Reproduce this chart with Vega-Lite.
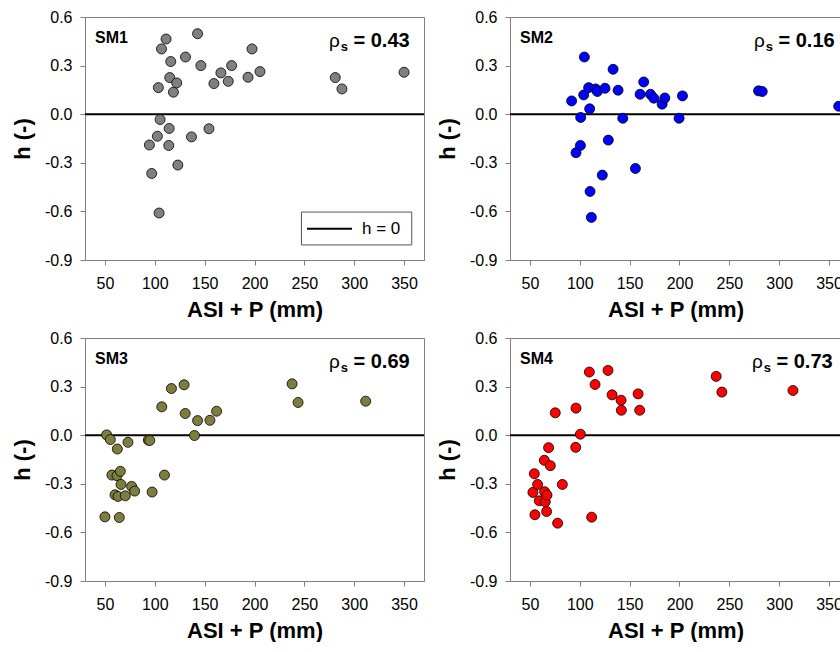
{
  "$schema": "https://vega.github.io/schema/vega-lite/v6.json",
  "padding": {"left": 10, "top": 8, "right": 0, "bottom": 0},
  "datasets": {
    "points": [
      {"sm": "SM1", "asi": 94.6, "h": -0.19},
      {"sm": "SM1", "asi": 96.9, "h": -0.366},
      {"sm": "SM1", "asi": 103.6, "h": 0.164},
      {"sm": "SM1", "asi": 102.6, "h": -0.136},
      {"sm": "SM1", "asi": 104.3, "h": -0.61},
      {"sm": "SM1", "asi": 105.3, "h": -0.033},
      {"sm": "SM1", "asi": 106.7, "h": 0.403},
      {"sm": "SM1", "asi": 111.3, "h": 0.464},
      {"sm": "SM1", "asi": 114.4, "h": -0.088},
      {"sm": "SM1", "asi": 116.0, "h": 0.325},
      {"sm": "SM1", "asi": 115.0, "h": 0.226},
      {"sm": "SM1", "asi": 114.0, "h": -0.193},
      {"sm": "SM1", "asi": 118.7, "h": 0.136},
      {"sm": "SM1", "asi": 122.0, "h": 0.193},
      {"sm": "SM1", "asi": 123.1, "h": -0.314},
      {"sm": "SM1", "asi": 130.8, "h": 0.353},
      {"sm": "SM1", "asi": 136.8, "h": -0.14},
      {"sm": "SM1", "asi": 142.9, "h": 0.497},
      {"sm": "SM1", "asi": 146.2, "h": 0.30},
      {"sm": "SM1", "asi": 154.3, "h": -0.09},
      {"sm": "SM1", "asi": 159.3, "h": 0.189},
      {"sm": "SM1", "asi": 166.3, "h": 0.255},
      {"sm": "SM1", "asi": 173.7, "h": 0.203},
      {"sm": "SM1", "asi": 177.1, "h": 0.30},
      {"sm": "SM1", "asi": 193.5, "h": 0.228},
      {"sm": "SM1", "asi": 197.5, "h": 0.403},
      {"sm": "SM1", "asi": 205.5, "h": 0.263},
      {"sm": "SM1", "asi": 281.0, "h": 0.226},
      {"sm": "SM1", "asi": 287.7, "h": 0.156},
      {"sm": "SM1", "asi": 350.0, "h": 0.259},

      {"sm": "SM2", "asi": 91.8, "h": 0.082},
      {"sm": "SM2", "asi": 96.2, "h": -0.238},
      {"sm": "SM2", "asi": 100.6, "h": -0.193},
      {"sm": "SM2", "asi": 100.9, "h": -0.02},
      {"sm": "SM2", "asi": 103.9, "h": 0.119},
      {"sm": "SM2", "asi": 104.6, "h": 0.353},
      {"sm": "SM2", "asi": 108.9, "h": 0.164},
      {"sm": "SM2", "asi": 109.9, "h": 0.033},
      {"sm": "SM2", "asi": 110.3, "h": -0.477},
      {"sm": "SM2", "asi": 111.6, "h": -0.637},
      {"sm": "SM2", "asi": 115.9, "h": 0.156},
      {"sm": "SM2", "asi": 117.6, "h": 0.14},
      {"sm": "SM2", "asi": 122.6, "h": -0.376},
      {"sm": "SM2", "asi": 125.3, "h": 0.16},
      {"sm": "SM2", "asi": 128.6, "h": -0.16},
      {"sm": "SM2", "asi": 133.4, "h": 0.277},
      {"sm": "SM2", "asi": 138.4, "h": 0.148},
      {"sm": "SM2", "asi": 143.1, "h": -0.025},
      {"sm": "SM2", "asi": 155.8, "h": -0.335},
      {"sm": "SM2", "asi": 160.5, "h": 0.123},
      {"sm": "SM2", "asi": 164.1, "h": 0.199},
      {"sm": "SM2", "asi": 170.9, "h": 0.123},
      {"sm": "SM2", "asi": 174.2, "h": 0.099},
      {"sm": "SM2", "asi": 182.6, "h": 0.062},
      {"sm": "SM2", "asi": 185.3, "h": 0.10},
      {"sm": "SM2", "asi": 199.6, "h": -0.025},
      {"sm": "SM2", "asi": 203.0, "h": 0.113},
      {"sm": "SM2", "asi": 279.3, "h": 0.144},
      {"sm": "SM2", "asi": 283.0, "h": 0.14},
      {"sm": "SM2", "asi": 359.7, "h": 0.049},

      {"sm": "SM3", "asi": 50.0, "h": -0.504},
      {"sm": "SM3", "asi": 51.7, "h": 0.002},
      {"sm": "SM3", "asi": 55.4, "h": -0.027},
      {"sm": "SM3", "asi": 57.0, "h": -0.246},
      {"sm": "SM3", "asi": 60.1, "h": -0.368},
      {"sm": "SM3", "asi": 62.1, "h": -0.25},
      {"sm": "SM3", "asi": 62.4, "h": -0.085},
      {"sm": "SM3", "asi": 63.1, "h": -0.378},
      {"sm": "SM3", "asi": 64.4, "h": -0.508},
      {"sm": "SM3", "asi": 65.4, "h": -0.223},
      {"sm": "SM3", "asi": 66.1, "h": -0.304},
      {"sm": "SM3", "asi": 70.4, "h": -0.374},
      {"sm": "SM3", "asi": 73.1, "h": -0.044},
      {"sm": "SM3", "asi": 76.8, "h": -0.316},
      {"sm": "SM3", "asi": 79.8, "h": -0.345},
      {"sm": "SM3", "asi": 93.5, "h": -0.03},
      {"sm": "SM3", "asi": 95.0, "h": -0.033},
      {"sm": "SM3", "asi": 97.3, "h": -0.351},
      {"sm": "SM3", "asi": 107.0, "h": 0.175},
      {"sm": "SM3", "asi": 109.7, "h": -0.246},
      {"sm": "SM3", "asi": 116.7, "h": 0.288},
      {"sm": "SM3", "asi": 129.4, "h": 0.311},
      {"sm": "SM3", "asi": 130.5, "h": 0.134},
      {"sm": "SM3", "asi": 139.8, "h": -0.002},
      {"sm": "SM3", "asi": 142.9, "h": 0.09},
      {"sm": "SM3", "asi": 155.3, "h": 0.092},
      {"sm": "SM3", "asi": 162.0, "h": 0.148},
      {"sm": "SM3", "asi": 237.7, "h": 0.317},
      {"sm": "SM3", "asi": 243.7, "h": 0.202},
      {"sm": "SM3", "asi": 311.5, "h": 0.21},

      {"sm": "SM4", "asi": 53.0, "h": -0.353},
      {"sm": "SM4", "asi": 54.4, "h": -0.238},
      {"sm": "SM4", "asi": 55.0, "h": -0.491},
      {"sm": "SM4", "asi": 57.7, "h": -0.304},
      {"sm": "SM4", "asi": 59.4, "h": -0.405},
      {"sm": "SM4", "asi": 64.4, "h": -0.155},
      {"sm": "SM4", "asi": 64.7, "h": -0.349},
      {"sm": "SM4", "asi": 65.4, "h": -0.411},
      {"sm": "SM4", "asi": 66.7, "h": -0.471},
      {"sm": "SM4", "asi": 67.1, "h": -0.37},
      {"sm": "SM4", "asi": 68.7, "h": -0.077},
      {"sm": "SM4", "asi": 70.4, "h": -0.188},
      {"sm": "SM4", "asi": 75.4, "h": 0.138},
      {"sm": "SM4", "asi": 77.8, "h": -0.543},
      {"sm": "SM4", "asi": 82.5, "h": -0.304},
      {"sm": "SM4", "asi": 95.9, "h": -0.075},
      {"sm": "SM4", "asi": 96.2, "h": 0.167},
      {"sm": "SM4", "asi": 100.6, "h": 0.006},
      {"sm": "SM4", "asi": 109.6, "h": 0.39},
      {"sm": "SM4", "asi": 111.9, "h": -0.506},
      {"sm": "SM4", "asi": 115.3, "h": 0.313},
      {"sm": "SM4", "asi": 128.3, "h": 0.40},
      {"sm": "SM4", "asi": 132.4, "h": 0.249},
      {"sm": "SM4", "asi": 141.4, "h": 0.216},
      {"sm": "SM4", "asi": 141.7, "h": 0.154},
      {"sm": "SM4", "asi": 158.5, "h": 0.255},
      {"sm": "SM4", "asi": 160.1, "h": 0.154},
      {"sm": "SM4", "asi": 236.8, "h": 0.363},
      {"sm": "SM4", "asi": 242.5, "h": 0.266},
      {"sm": "SM4", "asi": 313.8, "h": 0.276}
    ],
    "panels": [
      {"sm": "SM1", "rho": "= 0.43"},
      {"sm": "SM2", "rho": "= 0.16"},
      {"sm": "SM3", "rho": "= 0.69"},
      {"sm": "SM4", "rho": "= 0.73"}
    ],
    "legend": [
      {"label": "h = 0"}
    ]
  },
  "columns": 2,
  "spacing": {"row": 8, "column": 9},
  "concat": [
    {
      "width": 339,
      "height": 243,
      "layer": [
        {
          "data": {"values": [{}]},
          "mark": {"type": "rule", "strokeWidth": 2, "color": "#000000"},
          "encoding": {"y": {"datum": 0, "type": "quantitative"}}
        },
        {
          "data": {"name": "points"},
          "transform": [{"filter": "datum.sm === 'SM1'"}],
          "mark": {"type": "circle", "size": 100, "opacity": 1, "fill": "#808080", "stroke": "#000000", "strokeWidth": 0.8, "clip": true},
          "encoding": {
            "x": {"field": "asi", "type": "quantitative", "title": "ASI + P (mm)",
                  "scale": {"domain": [30, 370], "nice": false, "zero": false},
                  "axis": {"values": [50, 100, 150, 200, 250, 300, 350]}},
            "y": {"field": "h", "type": "quantitative", "title": "h (-)",
                  "scale": {"domain": [-0.9, 0.6], "nice": false, "zero": false},
                  "axis": {"values": [-0.9, -0.6, -0.3, 0, 0.3, 0.6],
                           "labelExpr": "datum.value < 0 ? '-' + format(-datum.value, '.1f') : format(datum.value, '.1f')"}}
          }
        },
        {
          "data": {"name": "panels"},
          "transform": [{"filter": "datum.sm === 'SM1'"}],
          "layer": [
            {"mark": {"type": "text", "font": "Liberation Sans", "fontSize": 16, "fontWeight": "bold", "align": "left", "baseline": "alphabetic"},
             "encoding": {"x": {"datum": 40}, "y": {"datum": 0.438}, "text": {"field": "sm"}}},
            {"mark": {"type": "text", "font": "Liberation Sans", "fontSize": 19, "align": "left", "baseline": "alphabetic", "text": "ρ"},
             "encoding": {"x": {"datum": 274.7}, "y": {"datum": 0.417}}},
            {"mark": {"type": "text", "font": "Liberation Sans", "fontSize": 13, "fontWeight": "bold", "align": "left", "baseline": "alphabetic", "text": "s"},
             "encoding": {"x": {"datum": 286.4}, "y": {"datum": 0.39}}},
            {"mark": {"type": "text", "font": "Liberation Sans", "fontSize": 20, "fontWeight": "bold", "align": "left", "baseline": "alphabetic"},
             "encoding": {"x": {"datum": 299.3}, "y": {"datum": 0.417}, "text": {"field": "rho"}}}
          ]
        },
        {
          "data": {"name": "legend"},
          "layer": [
            {"mark": {"type": "rect", "fill": "#ffffff", "stroke": "#555555", "strokeWidth": 1},
             "encoding": {"x": {"datum": 247.1}, "x2": {"datum": 357.7}, "y": {"datum": -0.604}, "y2": {"datum": -0.807}}},
            {"mark": {"type": "rule", "stroke": "#000000", "strokeWidth": 2},
             "encoding": {"x": {"datum": 252.7}, "x2": {"datum": 297.8}, "y": {"datum": -0.707}}},
            {"mark": {"type": "text", "font": "Liberation Sans", "fontSize": 17, "align": "left", "baseline": "middle"},
             "encoding": {"x": {"datum": 307.8}, "y": {"datum": -0.707}, "text": {"field": "label"}}}
          ]
        }
      ]
    },
    {
      "width": 331,
      "height": 243,
      "layer": [
        {
          "data": {"values": [{}]},
          "mark": {"type": "rule", "strokeWidth": 2, "color": "#000000"},
          "encoding": {"y": {"datum": 0, "type": "quantitative"}}
        },
        {
          "data": {"name": "points"},
          "transform": [{"filter": "datum.sm === 'SM2'"}],
          "mark": {"type": "circle", "size": 100, "opacity": 1, "fill": "#0000ff", "stroke": "#000000", "strokeWidth": 0.8, "clip": true},
          "encoding": {
            "x": {"field": "asi", "type": "quantitative", "title": "ASI + P (mm)",
                  "scale": {"domain": [30, 362], "nice": false, "zero": false},
                  "axis": {"values": [50, 100, 150, 200, 250, 300, 350]}},
            "y": {"field": "h", "type": "quantitative", "title": "h (-)",
                  "scale": {"domain": [-0.9, 0.6], "nice": false, "zero": false},
                  "axis": {"values": [-0.9, -0.6, -0.3, 0, 0.3, 0.6],
                           "labelExpr": "datum.value < 0 ? '-' + format(-datum.value, '.1f') : format(datum.value, '.1f')"}}
          }
        },
        {
          "data": {"name": "panels"},
          "transform": [{"filter": "datum.sm === 'SM2'"}],
          "layer": [
            {"mark": {"type": "text", "font": "Liberation Sans", "fontSize": 16, "fontWeight": "bold", "align": "left", "baseline": "alphabetic"},
             "encoding": {"x": {"datum": 40}, "y": {"datum": 0.438}, "text": {"field": "sm"}}},
            {"mark": {"type": "text", "font": "Liberation Sans", "fontSize": 19, "align": "left", "baseline": "alphabetic", "text": "ρ"},
             "encoding": {"x": {"datum": 274.7}, "y": {"datum": 0.417}}},
            {"mark": {"type": "text", "font": "Liberation Sans", "fontSize": 13, "fontWeight": "bold", "align": "left", "baseline": "alphabetic", "text": "s"},
             "encoding": {"x": {"datum": 286.4}, "y": {"datum": 0.39}}},
            {"mark": {"type": "text", "font": "Liberation Sans", "fontSize": 20, "fontWeight": "bold", "align": "left", "baseline": "alphabetic"},
             "encoding": {"x": {"datum": 299.3}, "y": {"datum": 0.417}, "text": {"field": "rho"}}}
          ]
        }
      ]
    },
    {
      "width": 339,
      "height": 243,
      "layer": [
        {
          "data": {"values": [{}]},
          "mark": {"type": "rule", "strokeWidth": 2, "color": "#000000"},
          "encoding": {"y": {"datum": 0, "type": "quantitative"}}
        },
        {
          "data": {"name": "points"},
          "transform": [{"filter": "datum.sm === 'SM3'"}],
          "mark": {"type": "circle", "size": 100, "opacity": 1, "fill": "#7d7d3e", "stroke": "#000000", "strokeWidth": 0.8, "clip": true},
          "encoding": {
            "x": {"field": "asi", "type": "quantitative", "title": "ASI + P (mm)",
                  "scale": {"domain": [30, 370], "nice": false, "zero": false},
                  "axis": {"values": [50, 100, 150, 200, 250, 300, 350]}},
            "y": {"field": "h", "type": "quantitative", "title": "h (-)",
                  "scale": {"domain": [-0.9, 0.6], "nice": false, "zero": false},
                  "axis": {"values": [-0.9, -0.6, -0.3, 0, 0.3, 0.6],
                           "labelExpr": "datum.value < 0 ? '-' + format(-datum.value, '.1f') : format(datum.value, '.1f')"}}
          }
        },
        {
          "data": {"name": "panels"},
          "transform": [{"filter": "datum.sm === 'SM3'"}],
          "layer": [
            {"mark": {"type": "text", "font": "Liberation Sans", "fontSize": 16, "fontWeight": "bold", "align": "left", "baseline": "alphabetic"},
             "encoding": {"x": {"datum": 40}, "y": {"datum": 0.438}, "text": {"field": "sm"}}},
            {"mark": {"type": "text", "font": "Liberation Sans", "fontSize": 19, "align": "left", "baseline": "alphabetic", "text": "ρ"},
             "encoding": {"x": {"datum": 274.7}, "y": {"datum": 0.417}}},
            {"mark": {"type": "text", "font": "Liberation Sans", "fontSize": 13, "fontWeight": "bold", "align": "left", "baseline": "alphabetic", "text": "s"},
             "encoding": {"x": {"datum": 286.4}, "y": {"datum": 0.39}}},
            {"mark": {"type": "text", "font": "Liberation Sans", "fontSize": 20, "fontWeight": "bold", "align": "left", "baseline": "alphabetic"},
             "encoding": {"x": {"datum": 299.3}, "y": {"datum": 0.417}, "text": {"field": "rho"}}}
          ]
        }
      ]
    },
    {
      "width": 331,
      "height": 243,
      "layer": [
        {
          "data": {"values": [{}]},
          "mark": {"type": "rule", "strokeWidth": 2, "color": "#000000"},
          "encoding": {"y": {"datum": 0, "type": "quantitative"}}
        },
        {
          "data": {"name": "points"},
          "transform": [{"filter": "datum.sm === 'SM4'"}],
          "mark": {"type": "circle", "size": 100, "opacity": 1, "fill": "#ff0000", "stroke": "#000000", "strokeWidth": 0.8, "clip": true},
          "encoding": {
            "x": {"field": "asi", "type": "quantitative", "title": "ASI + P (mm)",
                  "scale": {"domain": [30, 362], "nice": false, "zero": false},
                  "axis": {"values": [50, 100, 150, 200, 250, 300, 350]}},
            "y": {"field": "h", "type": "quantitative", "title": "h (-)",
                  "scale": {"domain": [-0.9, 0.6], "nice": false, "zero": false},
                  "axis": {"values": [-0.9, -0.6, -0.3, 0, 0.3, 0.6],
                           "labelExpr": "datum.value < 0 ? '-' + format(-datum.value, '.1f') : format(datum.value, '.1f')"}}
          }
        },
        {
          "data": {"name": "panels"},
          "transform": [{"filter": "datum.sm === 'SM4'"}],
          "layer": [
            {"mark": {"type": "text", "font": "Liberation Sans", "fontSize": 16, "fontWeight": "bold", "align": "left", "baseline": "alphabetic"},
             "encoding": {"x": {"datum": 40}, "y": {"datum": 0.438}, "text": {"field": "sm"}}},
            {"mark": {"type": "text", "font": "Liberation Sans", "fontSize": 19, "align": "left", "baseline": "alphabetic", "text": "ρ"},
             "encoding": {"x": {"datum": 272.7}, "y": {"datum": 0.417}}},
            {"mark": {"type": "text", "font": "Liberation Sans", "fontSize": 13, "fontWeight": "bold", "align": "left", "baseline": "alphabetic", "text": "s"},
             "encoding": {"x": {"datum": 284.4}, "y": {"datum": 0.39}}},
            {"mark": {"type": "text", "font": "Liberation Sans", "fontSize": 20, "fontWeight": "bold", "align": "left", "baseline": "alphabetic"},
             "encoding": {"x": {"datum": 297.3}, "y": {"datum": 0.417}, "text": {"field": "rho"}}}
          ]
        }
      ]
    }
  ],
  "config": {
    "font": "Liberation Sans",
    "background": "#ffffff",
    "view": {"stroke": "#808080", "strokeWidth": 1},
    "axis": {
      "grid": false,
      "domainColor": "#808080",
      "domainWidth": 1,
      "tickColor": "#808080",
      "tickSize": 5,
      "tickWidth": 1,
      "labelFont": "Liberation Sans",
      "labelFontSize": 16,
      "labelColor": "#000000",
      "labelFlush": false,
      "labelOverlap": false,
      "titleFont": "Liberation Sans",
      "titleFontSize": 22,
      "titleFontWeight": "bold",
      "titleColor": "#000000"
    },
    "axisX": {"labelPadding": 10, "titlePadding": 8},
    "axisY": {"labelPadding": 8, "titlePadding": 10}
  }
}
